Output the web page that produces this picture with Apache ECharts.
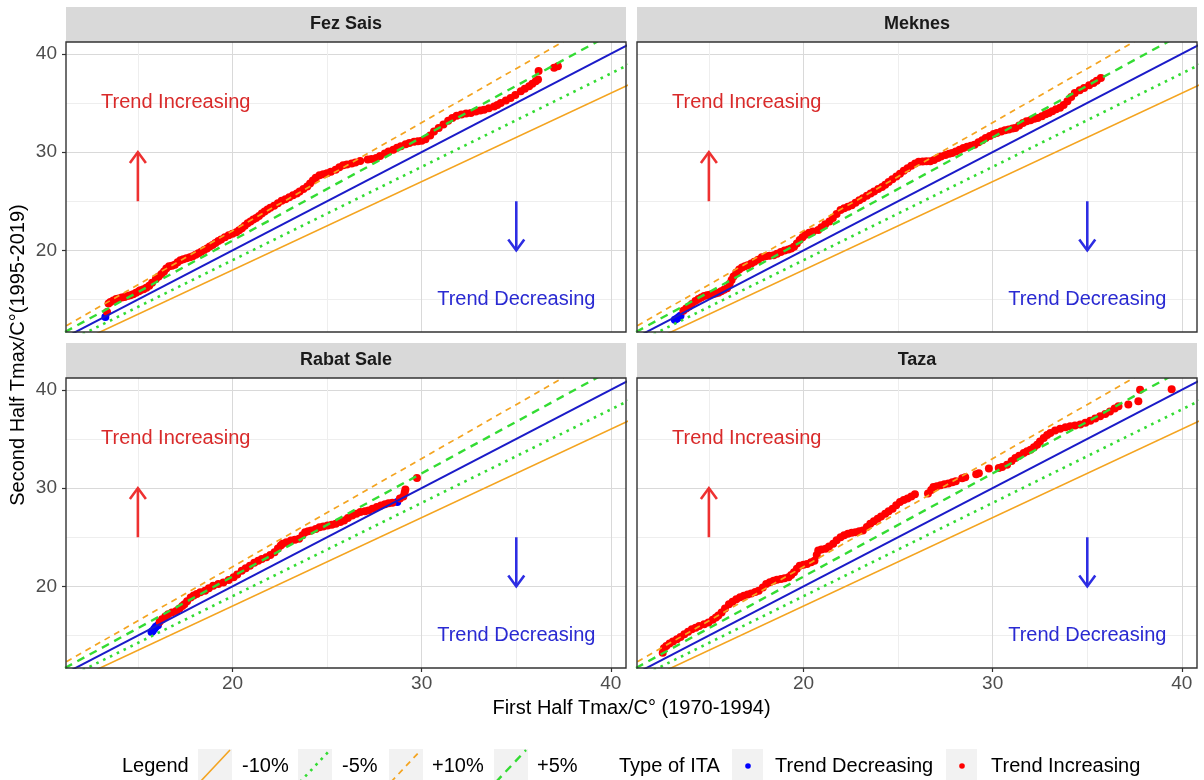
<!DOCTYPE html>
<html>
<head>
<meta charset="utf-8">
<script src="https://cdn.jsdelivr.net/npm/echarts@6/dist/echarts.min.js"></script>
<style>
html, body { margin: 0; padding: 0; background: #fff; }
#chart { width: 1204px; height: 780px; }
</style>
</head>
<body>
<div id="chart"></div>
<script>
// Innovative trend analysis: sorted Tmax of 1970-1994 (first half) vs 1995-2019 (second half)
const stations = ['Fez Sais', 'Meknes', 'Rabat Sale', 'Taza'];

const fezSaisFirst = [13.28,13.37,13.45,13.55,13.7,13.85,13.98,14.15,14.3,14.45,
  14.6,14.75,14.9,15.05,15.13,15.3,15.45,15.6,15.75,15.95,
  16.1,16.25,16.38,16.5,16.65,16.8,16.95,17.1,17.25,17.4,
  17.57,17.75,17.9,18.05,18.2,18.35,18.5,18.65,18.8,18.95,
  19.1,19.25,19.4,19.6,19.8,20.0,20.2,20.35,20.5,20.65,
  20.8,20.95,21.1,21.25,21.4,21.55,21.7,21.85,22.0,22.2,
  22.4,22.6,22.8,23.0,23.2,23.4,23.55,23.75,23.95,24.1,
  24.25,24.4,24.6,24.8,25.0,25.2,25.45,25.65,25.85,26.05,
  26.3,26.5,26.75,27.15,27.35,27.6,27.8,28.05,28.25,28.5,
  28.7,28.9,29.15,29.35,29.6,29.8,30.0,30.2,30.45,30.65,
  30.9,31.15,31.4,31.62,31.85,32.1,32.35,32.6,32.86,33.1,
  33.3,33.55,33.83,34.0,34.18,34.45,34.7,34.95,35.24,35.45,
  35.68,35.85,36.03,36.15,36.18,37.0,37.2];
const fezSaisSecond = [13.22,13.73,14.6,14.75,14.9,15.05,15.1,15.2,15.25,15.35,
  15.44,15.55,15.7,15.85,15.95,16.05,16.2,16.4,16.7,17.1,
  17.35,17.6,17.85,18.15,18.4,18.45,18.55,18.8,19.0,19.1,
  19.2,19.3,19.4,19.55,19.7,19.86,20.05,20.2,20.4,20.55,
  20.75,20.95,21.1,21.35,21.55,21.7,21.85,22.05,22.25,22.5,
  22.75,22.95,23.15,23.3,23.5,23.75,23.95,24.15,24.35,24.55,
  24.8,25.05,25.2,25.4,25.6,25.8,26.0,26.25,26.5,26.8,
  27.1,27.4,27.65,27.75,27.85,28.0,28.2,28.45,28.65,28.75,
  28.85,28.95,29.1,29.25,29.3,29.4,29.6,29.85,30.05,30.25,
  30.45,30.6,30.8,30.92,31.05,31.1,31.15,31.3,31.7,32.1,
  32.45,32.8,33.2,33.47,33.7,33.82,33.92,33.98,34.14,34.22,
  34.3,34.45,34.65,34.8,35.0,35.25,35.5,35.8,36.18,36.45,
  36.7,36.95,37.2,37.38,38.25,38.57,38.74];

const meknesFirst = [13.2,13.3,13.4,13.5,13.65,13.8,13.95,14.1,14.29,14.45,
  14.6,14.75,14.9,15.05,15.2,15.35,15.5,15.65,15.8,15.96,
  16.1,16.2,16.3,16.45,16.6,16.75,16.9,17.05,17.24,17.4,
  17.6,17.8,18.0,18.2,18.42,18.6,18.8,19.0,19.2,19.35,
  19.5,19.65,19.8,19.95,20.1,20.3,20.5,20.78,20.95,21.15,
  21.37,21.55,21.75,21.96,22.15,22.35,22.55,22.75,22.95,23.14,
  23.35,23.55,23.73,23.95,24.15,24.32,24.5,24.7,24.91,25.1,
  25.3,25.5,25.7,25.9,26.09,26.3,26.5,26.7,26.9,27.1,
  27.27,27.5,27.7,27.86,28.05,28.25,28.45,28.65,28.85,29.04,
  29.25,29.45,29.63,29.85,30.05,30.22,30.45,30.65,30.85,31.05,
  31.2,31.4,31.6,31.79,32.0,32.2,32.38,32.6,32.8,32.97,
  33.15,33.35,33.56,33.75,33.95,34.15,34.34,34.6,34.83,35.1,
  35.33,35.5,35.72];
const meknesSecond = [12.95,13.05,13.2,13.35,13.85,14.08,14.3,14.55,14.85,15.05,
  15.2,15.35,15.45,15.5,15.55,15.62,15.7,15.85,16.0,16.15,
  16.6,17.0,17.35,17.75,18.05,18.25,18.4,18.5,18.67,18.85,
  19.05,19.3,19.4,19.45,19.52,19.65,19.85,20.0,20.1,20.2,
  20.37,20.7,21.05,21.35,21.6,21.8,21.92,22.07,22.35,22.65,
  22.93,23.3,23.7,24.1,24.3,24.45,24.6,24.85,25.1,25.3,
  25.55,25.8,26.0,26.25,26.45,26.67,26.95,27.25,27.52,27.8,
  28.1,28.37,28.6,28.85,29.02,29.04,29.06,29.08,29.2,29.4,
  29.56,29.7,29.82,29.9,30.05,30.25,30.41,30.55,30.65,30.75,
  31.0,31.2,31.43,31.65,31.85,31.94,32.1,32.22,32.3,32.4,
  32.45,32.7,32.95,33.13,33.25,33.38,33.47,33.65,33.85,33.98,
  34.15,34.35,34.5,34.8,35.17,35.6,36.02,36.3,36.53,36.8,
  37.04,37.25,37.55];

const rabatSaleFirst = [15.72,15.78,15.87,15.95,16.06,16.15,16.28,16.45,16.6,16.8,
  17.03,17.2,17.35,17.46,17.6,17.79,17.95,18.11,18.3,18.55,
  18.75,18.98,19.25,19.52,19.8,20.06,20.25,20.49,20.7,20.92,
  21.15,21.36,21.55,21.79,22.0,22.22,22.4,22.55,22.65,22.85,
  23.09,23.3,23.52,23.7,23.84,24.0,24.17,24.4,24.6,24.8,
  25.03,25.25,25.46,25.7,25.9,26.1,26.33,26.55,26.76,27.0,
  27.19,27.4,27.63,27.85,28.06,28.25,28.45,28.71,28.85,29.03,
  29.1,29.14,29.75];
const rabatSaleSecond = [15.35,15.47,15.7,15.9,16.05,16.4,16.66,16.95,17.17,17.35,
  17.51,17.75,18.0,18.19,18.5,18.88,19.08,19.22,19.4,19.56,
  19.8,20.07,20.25,20.41,20.65,20.92,21.2,21.6,21.85,22.11,
  22.4,22.62,22.8,22.96,23.2,23.48,23.85,24.15,24.33,24.5,
  24.67,24.75,24.84,25.2,25.52,25.62,25.69,25.85,26.03,26.1,
  26.2,26.28,26.37,26.55,26.71,26.95,27.22,27.4,27.56,27.65,
  27.73,27.9,28.07,28.22,28.35,28.45,28.52,28.58,28.95,29.15,
  29.55,29.85,31.04];

const tazaFirst = [12.56,12.62,12.75,12.92,13.1,13.31,13.5,13.7,13.9,14.1,
  14.3,14.49,14.75,14.98,15.2,15.37,15.5,15.67,15.85,16.06,
  16.25,16.45,16.65,16.85,17.05,17.24,17.45,17.63,17.85,18.03,
  18.22,18.42,18.6,18.81,19.0,19.21,19.35,19.5,19.65,19.8,
  20.0,20.19,20.4,20.58,20.7,20.78,20.95,21.17,21.35,21.57,
  21.75,21.96,22.15,22.35,22.55,22.75,22.95,23.14,23.35,23.53,
  23.72,23.92,24.1,24.32,24.5,24.71,24.9,25.1,25.3,25.5,
  25.7,25.89,26.58,26.75,26.87,27.05,27.25,27.45,27.66,27.87,
  28.05,28.39,28.55,29.13,29.27,29.8,30.32,30.5,30.76,31.0,
  31.2,31.4,31.64,31.82,32.0,32.18,32.35,32.5,32.7,32.88,
  33.05,33.3,33.57,33.85,34.1,34.35,34.63,34.9,35.16,35.42,
  35.68,35.95,36.2,36.45,36.65,37.17,37.7,37.79,39.46];
const tazaSecond = [13.25,13.7,13.95,14.2,14.4,14.62,14.85,15.13,15.4,15.64,
  15.8,15.98,16.15,16.32,16.6,16.83,17.05,17.34,17.75,18.19,
  18.45,18.7,18.9,19.05,19.18,19.28,19.42,19.56,19.9,20.24,
  20.42,20.58,20.68,20.75,20.83,20.92,21.15,21.43,21.8,22.11,
  22.2,22.28,22.45,22.62,23.2,23.65,23.75,23.82,24.05,24.33,
  24.7,25.01,25.2,25.35,25.45,25.52,25.6,25.69,26.05,26.37,
  26.62,26.88,27.12,27.39,27.65,27.9,28.25,28.59,28.78,28.93,
  29.15,29.37,29.44,29.8,30.12,30.2,30.3,30.4,30.46,30.6,
  30.7,31.0,31.1,31.41,31.5,32.0,32.04,32.15,32.38,32.75,
  33.06,33.3,33.57,33.75,33.9,34.15,34.4,34.75,35.1,35.4,
  35.6,35.85,36.05,36.2,36.3,36.38,36.46,36.65,36.86,37.08,
  37.3,37.55,37.8,38.1,38.33,38.5,38.84,40.0,40.05];

const firstHalf = [fezSaisFirst, meknesFirst, rabatSaleFirst, tazaFirst];
const secondHalf = [fezSaisSecond, meknesSecond, rabatSaleSecond, tazaSecond];

// Labelled axis values
const axisTicks = [20, 30, 40];

// Percentage bands around the 1:1 line
const bandNames = ['-10%', '-5%', '+10%', '+5%'];
const bandFactors = [0.90, 0.95, 1.10, 1.05];

const itaTypes = ['Trend Decreasing', 'Trend Increasing'];

// ---------------- layout & styles ----------------
const FONT = '"Liberation Sans", Arial, Helvetica, sans-serif';
const panels = [
  { left: 66, top: 42 }, { left: 637, top: 42 },
  { left: 66, top: 378 }, { left: 637, top: 378 }
];
const PW = 560, PH = 290, STRIP_H = 35;
const X_MIN = 11.2, X_MAX = 40.8, Y_MIN = 11.7, Y_MAX = 41.2;

const ORANGE = '#F4A420', GREEN = '#33DC33';
const bandStyle = {
  '-10%': { color: ORANGE, width: 1.6, type: 'solid' },
  '-5%':  { color: GREEN,  width: 2.6, type: [2.6, 5] },
  '+10%': { color: ORANGE, width: 1.7, type: [6, 5] },
  '+5%':  { color: GREEN,  width: 2.4, type: [8, 6] }
};
const ONE_TO_ONE = '#1B1BC8';
const pointColor = { 'Trend Decreasing': '#0000FF', 'Trend Increasing': '#FF0000' };

const notes = {
  arrows: [
    { x: 15, from: 25, to: 30, color: '#EE3131' },
    { x: 35, from: 25, to: 20, color: '#2D2DE3' }
  ],
  labels: [
    { text: 'Trend Increasing', x: 17, y: 35, color: '#D92A2A' },
    { text: 'Trend Decreasing', x: 35, y: 15, color: '#2A2AD2' }
  ]
};

function renderNotes(params, api) {
  const children = [];
  notes.arrows.forEach(a => {
    const p0 = api.coord([a.x, a.from]);
    const p1 = api.coord([a.x, a.to]);
    const dir = p1[1] > p0[1] ? 1 : -1;
    children.push({ type: 'line', shape: { x1: p0[0], y1: p0[1], x2: p1[0], y2: p1[1] },
      style: { stroke: a.color, lineWidth: 2.6 } });
    children.push({ type: 'polyline',
      shape: { points: [[p1[0] - 8, p1[1] - dir * 11], [p1[0], p1[1]], [p1[0] + 8, p1[1] - dir * 11]] },
      style: { stroke: a.color, lineWidth: 2.6, fill: null } });
  });
  notes.labels.forEach(t => {
    const p = api.coord([t.x, t.y]);
    children.push({ type: 'text', x: p[0], y: p[1],
      style: { text: t.text, fill: t.color, font: '20px ' + FONT, align: 'center', verticalAlign: 'middle' } });
  });
  return { type: 'group', children };
}

const grid = panels.map(p => ({
  left: p.left, top: p.top, width: PW, height: PH,
  show: false, containLabel: false, outerBoundsMode: 'none'
}));

const gridLineMajor = { color: '#D9D9D9', width: 1 };
const gridLineMinor = { color: '#EEEEEE', width: 1 };

const xAxis = panels.map((p, i) => ({
  type: 'value', gridIndex: i, min: X_MIN, max: X_MAX, splitNumber: 3,
  axisLine: { show: false },
  axisTick: { show: i >= 2, length: 4, customValues: axisTicks, lineStyle: { color: '#333', width: 1.2 } },
  axisLabel: { show: i >= 2, customValues: axisTicks,
    formatter: v => (v % 10 === 0 ? String(v) : ''),
    color: '#4D4D4D', fontSize: 19, fontFamily: FONT, margin: 6 },
  splitLine: { show: true, lineStyle: gridLineMajor },
  minorTick: { show: false, splitNumber: 2 },
  minorSplitLine: { show: true, lineStyle: gridLineMinor }
}));

const yAxis = panels.map((p, i) => ({
  type: 'value', gridIndex: i, min: Y_MIN, max: Y_MAX, splitNumber: 3,
  axisLine: { show: false },
  axisTick: { show: i % 2 === 0, length: 4, customValues: axisTicks, lineStyle: { color: '#333', width: 1.2 } },
  axisLabel: { show: i % 2 === 0, customValues: axisTicks,
    formatter: v => (v % 10 === 0 ? String(v) : ''),
    color: '#4D4D4D', fontSize: 19, fontFamily: FONT, margin: 9 },
  splitLine: { show: true, lineStyle: gridLineMajor },
  minorTick: { show: false, splitNumber: 2 },
  minorSplitLine: { show: true, lineStyle: gridLineMinor }
}));

const series = [];
stations.forEach((name, i) => {
  const pairs = firstHalf[i].map((x, k) => [x, secondHalf[i][k]]);
  itaTypes.forEach(type => {
    series.push({
      type: 'scatter', name: type, xAxisIndex: i, yAxisIndex: i, z: 2,
      symbolSize: 8, itemStyle: { color: pointColor[type], opacity: 1 },
      data: pairs.filter(d => (type === 'Trend Decreasing' ? d[1] < d[0] : d[1] >= d[0])),
      silent: true
    });
  });
  // 1:1 line
  series.push({
    type: 'line', xAxisIndex: i, yAxisIndex: i, z: 3, showSymbol: false, silent: true, clip: true,
    data: [[X_MIN - 2, X_MIN - 2], [X_MAX + 2, X_MAX + 2]],
    lineStyle: { color: ONE_TO_ONE, width: 2 }
  });
  bandNames.forEach((b, j) => {
    const k = bandFactors[j];
    series.push({
      type: 'line', name: b, xAxisIndex: i, yAxisIndex: i, z: 3, showSymbol: false, silent: true, clip: true,
      data: [[X_MIN - 2, (X_MIN - 2) * k], [X_MAX + 2, (X_MAX + 2) * k]],
      lineStyle: bandStyle[b]
    });
  });
  series.push({
    type: 'custom', xAxisIndex: i, yAxisIndex: i, z: 4, silent: true, clip: false,
    data: [[20, 20]], renderItem: renderNotes
  });
});

// ---------------- strips, frames, titles, legend ----------------
const graphic = [];
panels.forEach((p, i) => {
  graphic.push({ type: 'rect', z: 50,
    shape: { x: p.left, y: p.top - STRIP_H, width: PW, height: STRIP_H },
    style: { fill: '#D9D9D9', stroke: null } });
  graphic.push({ type: 'text', z: 51, x: p.left + PW / 2, y: p.top - STRIP_H / 2,
    style: { text: stations[i], font: 'bold 18px ' + FONT, fill: '#1A1A1A', align: 'center', verticalAlign: 'middle' } });
  graphic.push({ type: 'rect', z: 100,
    shape: { x: p.left, y: p.top, width: PW, height: PH },
    style: { fill: null, stroke: '#333333', lineWidth: 1.4 } });
});

graphic.push({ type: 'text', z: 51, x: (panels[0].left + panels[1].left + PW) / 2, y: 708,
  style: { text: 'First Half Tmax/C° (1970-1994)', font: '20px ' + FONT, fill: '#000', align: 'center', verticalAlign: 'middle' } });
graphic.push({ type: 'text', z: 51, x: 18, y: (panels[0].top + panels[2].top + PH) / 2, rotation: Math.PI / 2,
  style: { text: 'Second Half Tmax/C°(1995-2019)', font: '20px ' + FONT, fill: '#000', align: 'center', verticalAlign: 'middle' } });

const LEG_Y = 766;
const KEY = 34;
function legendText(x, text) {
  graphic.push({ type: 'text', z: 51, x, y: LEG_Y,
    style: { text, font: '20px ' + FONT, fill: '#000', align: 'left', verticalAlign: 'middle' } });
}
legendText(122, 'Legend');
const bandKeyX = [198, 298, 389, 494];
const bandLabelX = [242, 342, 432, 537];
bandNames.forEach((b, j) => {
  const x = bandKeyX[j];
  graphic.push({ type: 'rect', z: 50, shape: { x, y: LEG_Y - KEY / 2, width: KEY, height: KEY }, style: { fill: '#F2F2F2' } });
  const st = bandStyle[b];
  graphic.push({ type: 'line', z: 51,
    shape: { x1: x + 2, y1: LEG_Y + KEY / 2 - 1, x2: x + KEY - 2, y2: LEG_Y - KEY / 2 + 1 },
    style: { stroke: st.color, lineWidth: st.width, lineDash: st.type === 'solid' ? null : st.type } });
  legendText(bandLabelX[j], b);
});
legendText(619, 'Type of ITA');
const typeKeyX = [732, 946];
const typeLabelX = [775, 991];
itaTypes.forEach((t, j) => {
  const x = typeKeyX[j];
  graphic.push({ type: 'rect', z: 50, shape: { x, y: LEG_Y - KEY / 2, width: 31, height: KEY }, style: { fill: '#F2F2F2' } });
  graphic.push({ type: 'circle', z: 51, shape: { cx: x + 16, cy: LEG_Y, r: 2.8 }, style: { fill: pointColor[t] } });
  legendText(typeLabelX[j], t);
});

const chart = echarts.init(document.getElementById('chart'), null, { renderer: 'canvas' });
chart.setOption({
  backgroundColor: '#FFFFFF',
  animation: false,
  grid, xAxis, yAxis, series, graphic
});
</script>
</body>
</html>
